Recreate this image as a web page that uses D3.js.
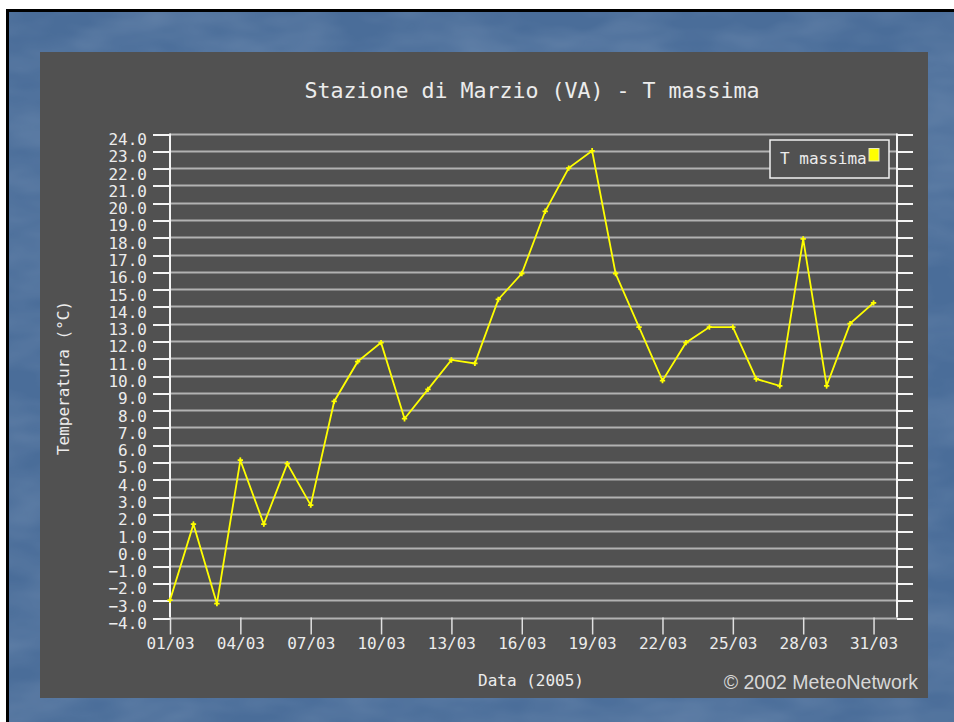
<!DOCTYPE html>
<html>
<head>
<meta charset="utf-8">
<script src="https://cdn.jsdelivr.net/npm/d3@7"></script>
<style>
  body { margin: 0; background: #fff; }
  svg { display: block; }
</style>
</head>
<body>
<div id="chart"></div>
<script>
// Stazione di Marzio (VA) - daily max temperature, March 2005
const dates = ['01/03', '02/03', '03/03', '04/03', '05/03', '06/03', '07/03', '08/03', '09/03', '10/03',
  '11/03', '12/03', '13/03', '14/03', '15/03', '16/03', '17/03', '18/03', '19/03', '20/03',
  '21/03', '22/03', '23/03', '24/03', '25/03', '26/03', '27/03', '28/03', '29/03', '30/03', '31/03'];
const tMassima = [-3.0, 1.4, -3.2, 5.1, 1.4, 4.9, 2.5, 8.5, 10.8, 11.9,
  7.5, 9.2, 10.9, 10.7, 14.4, 15.9, 19.5, 22.0, 23.0, 15.9,
  12.8, 9.7, 11.9, 12.8, 12.8, 9.8, 9.4, 17.9, 9.4, 13.0, 14.2];
const xTickLabels = ['01/03', '04/03', '07/03', '10/03', '13/03', '16/03', '19/03', '22/03', '25/03', '28/03', '31/03'];
const yTicks = [-4, -3, -2, -1, 0, 1, 2, 3, 4, 5, 6, 7, 8, 9, 10, 11, 12, 13, 14, 15, 16, 17, 18, 19, 20, 21, 22, 23, 24];

const W = 954, H = 722;
const mono = "'DejaVu Sans Mono', 'Liberation Mono', monospace";
const txt = '#ececec';

const parse = d3.timeParse('%d/%m/%Y');
const toDate = s => parse(s + '/2005');

const svg = d3.select('#chart').append('svg')
  .attr('width', W)
  .attr('height', H);

// slide background with a faint texture
const defs = svg.append('defs');
const f = defs.append('filter').attr('id', 'tex').attr('x', 0).attr('y', 0).attr('width', 1).attr('height', 1);
f.append('feTurbulence').attr('type', 'fractalNoise').attr('baseFrequency', '0.012 0.03').attr('numOctaves', 3).attr('seed', 4);
f.append('feColorMatrix').attr('type', 'matrix')
  .attr('values', '0 0 0 0 0.75  0 0 0 0 0.82  0 0 0 0 0.92  0 0 0 0.45 -0.12');

svg.append('rect').attr('x', 6).attr('y', 9).attr('width', W - 6).attr('height', H - 9).attr('fill', '#000');
svg.append('rect').attr('x', 9).attr('y', 12).attr('width', W - 9).attr('height', H - 12).attr('fill', '#4a6d99');
svg.append('rect').attr('x', 9).attr('y', 12).attr('width', W - 9).attr('height', H - 12)
  .attr('filter', 'url(#tex)').attr('opacity', 0.5);

// chart panel
svg.append('rect').attr('x', 40).attr('y', 52).attr('width', 888).attr('height', 646).attr('fill', '#515151');

const pLeft = 170, pRight = 897, pTop = 133.5, pBottom = 617.5;

const x = d3.scaleTime()
  .domain([toDate('01/03'), toDate('01/04')])
  .range([pLeft, pRight]);

const y = d3.scaleLinear()
  .domain([-4, 24])
  .range([pBottom, pTop]);

// horizontal grid
svg.append('g')
  .selectAll('line')
  .data(yTicks)
  .enter()
  .append('line')
  .attr('x1', pLeft)
  .attr('x2', pRight)
  .attr('y1', d => Math.round(y(d)) + 0.5)
  .attr('y2', d => Math.round(y(d)) + 0.5)
  .attr('stroke', '#b2b2b2')
  .attr('stroke-width', 2);

// left axis
const yAxis = svg.append('g')
  .attr('transform', `translate(${pLeft},0)`)
  .call(d3.axisLeft(y).tickValues(yTicks).tickSize(17).tickPadding(6).tickFormat(d3.format('.1f')));
yAxis.select('.domain').remove();
yAxis.selectAll('.tick line').attr('stroke', '#f4f4f4').attr('stroke-width', 2)
  .attr('transform', d => `translate(0,${Math.round(y(d)) + 0.5 - y(d)})`);
yAxis.selectAll('.tick text')
  .attr('fill', txt)
  .attr('dy', '11px')
  .style('font-family', mono)
  .style('font-size', '16px');

// right axis (ticks only)
const yAxisR = svg.append('g')
  .attr('transform', `translate(${pRight},0)`)
  .call(d3.axisRight(y).tickValues(yTicks).tickSize(16).tickFormat(''));
yAxisR.select('.domain').remove();
yAxisR.selectAll('.tick line').attr('stroke', '#f4f4f4').attr('stroke-width', 2)
  .attr('transform', d => `translate(0,${Math.round(y(d)) + 0.5 - y(d)})`);

// vertical axis lines
svg.append('line').attr('x1', pLeft).attr('x2', pLeft).attr('y1', pTop).attr('y2', pBottom)
  .attr('stroke', '#f4f4f4').attr('stroke-width', 2);
svg.append('line').attr('x1', pRight).attr('x2', pRight).attr('y1', pTop).attr('y2', pBottom)
  .attr('stroke', '#f4f4f4').attr('stroke-width', 2);

// bottom axis
const xAxis = svg.append('g')
  .attr('transform', `translate(0,${pBottom})`)
  .call(d3.axisBottom(x).tickValues(xTickLabels.map(toDate)).tickSize(17).tickPadding(3)
    .tickFormat(d3.timeFormat('%d/%m')));
xAxis.select('.domain').remove();
xAxis.selectAll('.tick line').attr('stroke', '#e0e0e0').attr('stroke-width', 1.5);
xAxis.selectAll('.tick text')
  .attr('fill', txt)
  .style('font-family', mono)
  .style('font-size', '16px');

// series
const pts = dates.map((d, i) => ({ date: toDate(d), v: tMassima[i] }));

svg.append('path')
  .datum(pts)
  .attr('fill', 'none')
  .attr('stroke', '#ffff00')
  .attr('stroke-width', 1.8)
  .attr('d', d3.line().x(d => x(d.date)).y(d => y(d.v)));

svg.selectAll('.mk')
  .data(pts)
  .enter()
  .append('path')
  .attr('class', 'mk')
  .attr('transform', d => `translate(${x(d.date)},${y(d.v)})`)
  .attr('d', d3.symbol(d3.symbolCross, 16))
  .attr('fill', '#ffff00');

// legend
svg.append('rect').attr('x', 770).attr('y', 140).attr('width', 119).attr('height', 38)
  .attr('fill', '#515151').attr('stroke', '#f0f0f0').attr('stroke-width', 1.5);
svg.append('text').attr('x', 780).attr('y', 163.5).text('T massima')
  .attr('fill', txt).style('font-family', mono).style('font-size', '16px');
svg.append('rect').attr('x', 869).attr('y', 148.5).attr('width', 10).attr('height', 12.5)
  .attr('fill', '#ffff00').attr('stroke', '#e8e8c0').attr('stroke-width', 1);

// titles
svg.append('text')
  .attr('x', 532).attr('y', 98)
  .attr('text-anchor', 'middle')
  .attr('fill', txt)
  .style('font-family', mono)
  .style('font-size', '21.6px')
  .text('Stazione di Marzio (VA) - T massima');

svg.append('text')
  .attr('transform', 'translate(69,378) rotate(-90)')
  .attr('text-anchor', 'middle')
  .attr('fill', txt)
  .style('font-family', mono)
  .style('font-size', '16px')
  .text('Temperatura (°C)');

svg.append('text')
  .attr('x', 531).attr('y', 686)
  .attr('text-anchor', 'middle')
  .attr('fill', txt)
  .style('font-family', mono)
  .style('font-size', '16px')
  .text('Data (2005)');

svg.append('text')
  .attr('x', 918).attr('y', 689)
  .attr('text-anchor', 'end')
  .attr('fill', '#d8d8d8')
  .style('font-family', "'Liberation Sans', Arial, sans-serif")
  .style('font-size', '19.5px')
  .text('© 2002 MeteoNetwork');
</script>
</body>
</html>
